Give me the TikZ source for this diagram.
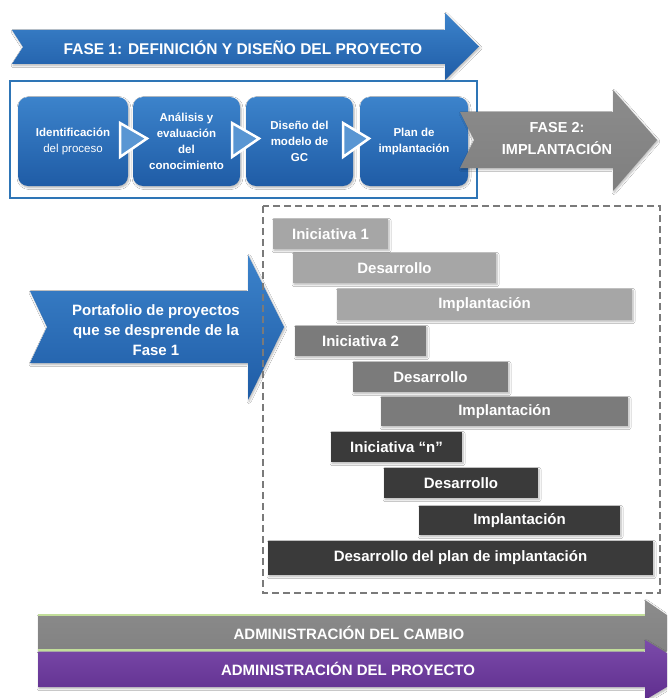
\documentclass[tikz,border=0pt]{standalone}
\usepackage{fontspec}
\setmainfont{Liberation Sans}
\usetikzlibrary{calc,shadows.blur}
\definecolor{bluetop}{HTML}{3C83CB}
\definecolor{bluebot}{HTML}{1F5CA6}
\definecolor{blueline}{HTML}{2E75B6}
\definecolor{grayarrow}{HTML}{7F7F7F}
\definecolor{grayarrowtop}{HTML}{8C8C8C}
\definecolor{lightbar}{HTML}{A6A6A6}
\definecolor{midbar}{HTML}{7B7B7B}
\definecolor{darkbar}{HTML}{3A3A3A}
\definecolor{purpletop}{HTML}{7B4BAA}
\definecolor{purplebot}{HTML}{5F2E8E}
\definecolor{greenline}{HTML}{C2DE9A}
\definecolor{dashgray}{HTML}{7A7A7A}
\begin{document}
\begin{tikzpicture}[x=1pt,y=-1pt,
  softshadow/.style={blur shadow={shadow xshift=1pt,shadow yshift=-1.5pt,shadow opacity=30,shadow blur steps=6,shadow blur radius=2pt}},
  pbox/.style={rounded corners=10pt, top color=bluetop, bottom color=bluebot,
    inner sep=0, outer sep=0, align=center, text=white,
    font=\bfseries\fontsize{11.5}{16}\selectfont, softshadow},
  bar/.style={inner sep=0, outer sep=0, anchor=north west, text=white,
    font=\bfseries\fontsize{15}{18}\selectfont, softshadow},
  tri/.style={draw=white, line width=2.5pt, line join=miter, fill=bluetop!85!white},
  arrowtxt/.style={text=white, align=center, inner sep=0},
  bluearrow/.style={top color=bluetop, bottom color=bluebot, softshadow},
]
\clip (0,0) rectangle (667,698);
\fill[white] (0,0) rectangle (667,698);

% FASE 1 arrow
\path[bluearrow] (12,30) -- (445,30) -- (445,13) -- (479,46.5) -- (445,80) -- (445,64) -- (12,64) -- (23,47) -- cycle;
\node[arrowtxt, font=\bfseries\fontsize{15.5}{18}\selectfont] (fase1) at (243,47.5) {FASE 1: DEFINICIÓN Y DISEÑO DEL PROYECTO};

% frame of phase 1
\draw[blueline, line width=2pt, fill=white] (9.5,81) rectangle (477,197.5);

% phase 1 boxes
\node[pbox, minimum width=110, minimum height=89] (b1) at (73,141.5) {Identificación\\{\mdseries del proceso}};
\node[pbox, minimum width=107, minimum height=89] (b2) at (186.5,141.5) {Análisis y\\evaluación\\del\\conocimiento};
\node[pbox, minimum width=107, minimum height=89] (b3) at (299.5,141.5) {Diseño del\\modelo de\\GC};
\node[pbox, minimum width=108, minimum height=89] (b4) at (414,141.5) {Plan de\\implantación};

% chevrons between boxes
\draw[tri] ($(b1.east)+(-8,-18.5)$) -- ($(b1.east)+(19,-3)$) -- ($(b1.east)+(-8,15.5)$) -- cycle;
\draw[tri] ($(b2.east)+(-8,-18.5)$) -- ($(b2.east)+(19,-3)$) -- ($(b2.east)+(-8,15.5)$) -- cycle;
\draw[tri] ($(b3.east)+(-10,-18.5)$) -- ($(b3.east)+(16,-3)$) -- ($(b3.east)+(-10,15.5)$) -- cycle;

% FASE 2 arrow
\path[top color=grayarrowtop, bottom color=grayarrow, softshadow] (460,112) -- (613,112) -- (613,90) -- (657,140) -- (613,191) -- (613,168) -- (460,168) -- (474,140) -- cycle;
\node[arrowtxt, font=\bfseries\fontsize{14.5}{22}\selectfont] (fase2) at (557,139) {FASE 2:\\IMPLANTACIÓN};

% Portafolio arrow
\path[bluearrow] (30,291) -- (248,291) -- (248,255) -- (284,327) -- (248,400) -- (248,363) -- (30,363) -- (47,327) -- cycle;
\node[arrowtxt, font=\bfseries\fontsize{15}{20}\selectfont] (port) at (156,330) {Portafolio de proyectos\\que se desprende de la\\Fase 1};

% dashed frame
\draw[dashgray, line width=2pt, dash pattern=on 7pt off 4pt] (263,206) rectangle (660,593);

% bars
\node[bar, fill=lightbar, minimum width=115, minimum height=30] (i1) at (273,219) {Iniciativa 1};
\node[bar, fill=lightbar, minimum width=203, minimum height=30] (d1) at (293,253) {Desarrollo};
\node[bar, fill=lightbar, minimum width=295, minimum height=31] (p1) at (337,289) {Implantación};
\node[bar, fill=midbar, minimum width=131, minimum height=30] (i2) at (295,326) {Iniciativa 2};
\node[bar, fill=midbar, minimum width=155, minimum height=30] (d2) at (353,362) {Desarrollo};
\node[bar, fill=midbar, minimum width=247, minimum height=29] (p2) at (381,397) {Implantación};
\node[bar, fill=darkbar, minimum width=131, minimum height=30] (in) at (331,432) {Iniciativa “n”};
\node[bar, fill=darkbar, minimum width=154, minimum height=30] (d3) at (384,468) {Desarrollo};
\node[bar, fill=darkbar, minimum width=201, minimum height=29] (p3) at (419,506) {Implantación};
\node[bar, fill=darkbar, minimum width=385, minimum height=34] (plan) at (268,541) {Desarrollo del plan de implantación};

% bottom arrows
\path[top color=grayarrowtop, bottom color=grayarrow, softshadow] (38,615) -- (645,615) -- (645,600) -- (693,633) -- (645,666) -- (645,650) -- (38,650) -- cycle;
\draw[greenline, line width=1.3pt] (38,615) -- (645,615);
\draw[greenline, line width=1.3pt] (38,650) -- (645,650);
\node[arrowtxt, font=\bfseries\fontsize{15}{18}\selectfont] (cambio) at (349,633) {ADMINISTRACIÓN DEL CAMBIO};

\path[top color=purpletop, bottom color=purplebot, softshadow] (38,652) -- (645,652) -- (645,640) -- (695,670) -- (645,700) -- (645,687) -- (38,687) -- cycle;
\node[arrowtxt, font=\bfseries\fontsize{15}{18}\selectfont] (proyecto) at (348,669) {ADMINISTRACIÓN DEL PROYECTO};
\end{tikzpicture}
\end{document}
